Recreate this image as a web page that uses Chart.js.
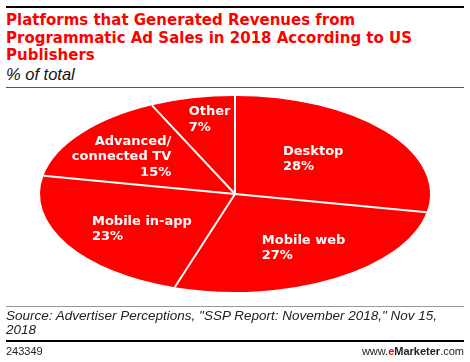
<!DOCTYPE html>
<html>
<head>
<meta charset="utf-8">
<script src="https://cdn.jsdelivr.net/npm/chart.js@4"></script>
<style>
  body { margin: 0; width: 470px; height: 362px; background: #fff; position: relative; overflow: hidden; }
  .rule { position: absolute; left: 6px; width: 458px; }
  .txt { position: absolute; left: 6px; white-space: nowrap; }
  #title { top: 12px; font: bold 15px "DejaVu Sans", sans-serif; line-height: 17.5px; color: #f00; }
  #sub { top: 65px; font: italic 16.5px "Liberation Sans", sans-serif; color: #111; }
  #source { top: 309px; font: italic 13.5px "Liberation Sans", sans-serif; line-height: 14px; color: #222; }
  #id { top: 345px; font: 11px "Liberation Sans", sans-serif; color: #222; }
  #brand { position: absolute; right: 6px; top: 345px; font: 11px "Liberation Sans", sans-serif; color: #222; }
  #brand b { font-weight: bold; }
  #brand .e { color: #f00; font-weight: bold; }
  canvas { position: absolute; left: 0; top: 0; }
</style>
</head>
<body>
<div class="rule" style="top:6px;height:2px;background:#000"></div>
<div class="txt" id="title">Platforms that Generated Revenues from<br>Programmatic Ad Sales in 2018 According to US<br>Publishers</div>
<div class="txt" id="sub">% of total</div>
<div class="rule" style="top:87px;height:1px;background:#555"></div>
<canvas id="pie" width="470" height="362"></canvas>
<div class="rule" style="top:306px;height:1px;background:#999"></div>
<div class="txt" id="source">Source: Advertiser Perceptions, "SSP Report: November 2018," Nov 15,<br>2018</div>
<div class="rule" style="top:340px;height:2px;background:#000"></div>
<div class="txt" id="id">243349</div>
<div id="brand">www.<span class="e">e</span><b>Marketer</b>.com</div>
<script>
const platforms = ['Desktop', 'Mobile web', 'Mobile in-app', 'Advanced/connected TV', 'Other'];
const labelLines = [['Desktop'], ['Mobile web'], ['Mobile in-app'], ['Advanced/', 'connected TV'], ['Other']];
const shares = [28, 27, 23, 15, 7];

const RX = 195;          // horizontal radius (px)
const SQUASH = 98 / 195; // vertical flattening of the pie
const labelPlace = [     // offsets from mid-angle anchor, alignment
    { dx: -15, dy: 4, align: 'left' },
    { dx: 7, dy: 2, align: 'left' },
    { dx: 11, dy: 4, align: 'left' },
    { dx: -18, dy: 0, align: 'right' },
    { dx: 1, dy: -15, align: 'left' }
];

const ellipsePlugin = {
    id: 'ellipse',
    beforeDatasetsDraw(chart) {
        const arc = chart.getDatasetMeta(0).data[0];
        const ctx = chart.ctx;
        ctx.save();
        ctx.translate(arc.x, arc.y);
        ctx.scale(1, SQUASH);
        ctx.translate(-arc.x, -arc.y);
    },
    afterDatasetsDraw(chart) {
        const ctx = chart.ctx;
        ctx.restore();
        const arcs = chart.getDatasetMeta(0).data;
        const cx = arcs[0].x, cy = arcs[0].y;
        const ry = RX * SQUASH;

        // white separators
        ctx.save();
        ctx.strokeStyle = '#fff';
        ctx.lineWidth = 2;
        arcs.forEach(a => {
            ctx.beginPath();
            ctx.moveTo(cx, cy);
            ctx.lineTo(cx + RX * Math.cos(a.startAngle), cy + ry * Math.sin(a.startAngle));
            ctx.stroke();
        });

        // labels
        ctx.fillStyle = '#fff';
        ctx.font = 'bold 13px "DejaVu Sans", sans-serif';
        ctx.textBaseline = 'middle';
        const lh = 15.5;
        arcs.forEach((a, i) => {
            const mid = (a.startAngle + a.endAngle) / 2;
            const lines = labelLines[i].concat([shares[i] + '%']);
            const w = Math.max(...lines.map(l => ctx.measureText(l).width));
            const p = labelPlace[i];
            const bx = cx + RX * 0.62 * Math.cos(mid) + p.dx;
            const by = cy + ry * 0.62 * Math.sin(mid) + p.dy;
            ctx.textAlign = p.align;
            const x = p.align === 'right' ? bx + w / 2 : bx - w / 2;
            const y0 = by - (lines.length - 1) * lh / 2;
            lines.forEach((l, k) => ctx.fillText(l, x, y0 + k * lh));
        });
        ctx.restore();
    }
};

new Chart(document.getElementById('pie').getContext('2d'), {
    type: 'pie',
    data: {
        labels: platforms,
        datasets: [{
            data: shares,
            backgroundColor: '#f00',
            borderWidth: 0,
            radius: RX
        }]
    },
    options: {
        responsive: false,
        animation: false,
        layout: { padding: { top: 100, bottom: 74, left: 0, right: 0 } },
        plugins: {
            legend: { display: false },
            tooltip: { enabled: false }
        }
    },
    plugins: [ellipsePlugin]
});
</script>
</body>
</html>
